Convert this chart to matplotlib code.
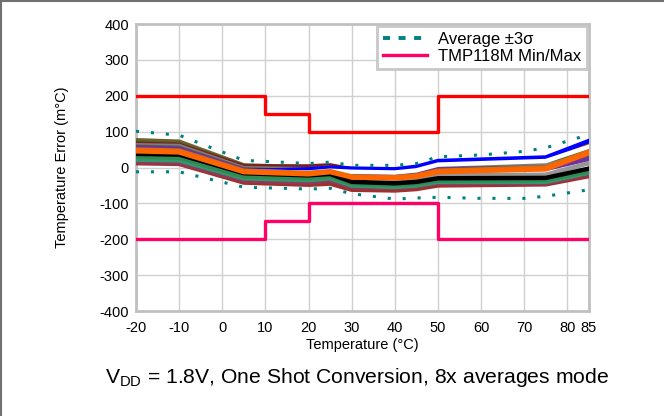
import matplotlib
matplotlib.use("Agg")
import matplotlib.pyplot as plt
from matplotlib.lines import Line2D

plt.rcParams['font.family'] = ['Liberation Sans', 'DejaVu Sans']
plt.rcParams['mathtext.fontset'] = 'custom'
plt.rcParams['mathtext.rm'] = 'Liberation Sans'
plt.rcParams['mathtext.it'] = 'Liberation Sans:italic'

# ---------------- data ----------------
temps = [-20, -10, 5, 20, 25, 30, 40, 45, 50, 75, 85]

# individual device curves (m°C), drawn in this order
curve_colors = ['#70602A', '#4F6228', '#7A1F1F', '#8B4513', '#7F7F7F', '#595959',
                '#7030A0', '#0000FF', '#FFFFFF', '#969696', '#FFC000', '#A0302A',
                '#8B3A62', '#339966', '#2E8B57', '#000000', '#E46C0A', '#FF6600']
curves = [
    [76, 72, 6, 0, 2, -10, -13, -10, 8, 15, 55],            # olive brown
    [70, 66, 2, -3, 0, -16, -18, -14, 2, 10, 42],           # olive green
    [66, 63, 3, 3, 6, -5, -7, -3, 13, 20, 60],              # maroon
    [52, 50, -5, -8, -4, -8, -10, -5, 12, 22, 66],          # brown
    [62, 60, -2, -5, 0, -15, -18, -14, 0, 6, 36],           # gray
    [58, 55, -5, -10, -5, -20, -22, -18, -4, 0, 30],        # dark gray
    [55, 52, -7, -12, -8, -22, -25, -20, -6, -4, 24],       # purple
    [48, 45, -10, -5, 0, -3, -5, 2, 18, 28, 74],            # blue
    [42, 40, -11, -14, -9, -12, -14, -8, 8, 18, 58],        # white
    [30, 28, -22, -27, -23, -36, -38, -33, -22, -20, 12],   # gray2
    [36, 34, -19, -24, -20, -42, -45, -41, -32, -31, -6],   # yellow
    [12, 10, -42, -48, -45, -62, -64, -60, -50, -47, -24],  # red brown
    [16, 13, -36, -42, -36, -55, -57, -53, -44, -44, -18],  # magenta
    [22, 20, -30, -35, -30, -50, -54, -50, -40, -40, -14],  # green2
    [30, 27, -25, -30, -25, -45, -49, -45, -36, -35, -10],  # seagreen
    [38, 36, -16, -22, -18, -40, -44, -40, -30, -29, -3],   # black
    [50, 47, -9, -15, -10, -25, -27, -22, -9, 0, 45],       # orange2
    [45, 42, -13, -19, -13, -28, -30, -26, -13, -5, 40],    # orange
]

sigma_temps = [-20, -10, 5, 20, 25, 30, 40, 45, 50, 60, 70, 75, 85]
avg_plus_3s = [101, 90, 20, 11, 15, 6, 6, 11, 30, 35, 45, 55, 92]
avg_minus_3s = [-12, -12, -55, -60, -58, -73, -88, -85, -83, -86, -86, -80, -62]

limit_temps = [-20, 10, 10, 20, 20, 50, 50, 85]
limit_max = [200, 200, 150, 150, 100, 100, 200, 200]
limit_min = [-200, -200, -150, -150, -100, -100, -200, -200]

xticks = [-20, -10, 0, 10, 20, 30, 40, 50, 60, 70, 80, 85]
yticks = [-400, -300, -200, -100, 0, 100, 200, 300, 400]

# ---------------- plot ----------------
fig = plt.figure(figsize=(6.64, 4.16), dpi=100)
ax = fig.add_axes([0.2048, 0.2524, 0.887 - 0.2048, 0.9423 - 0.2524])

for c, col in zip(curves, curve_colors):
    ax.plot(temps, c, color=col, lw=3.2, solid_joinstyle='miter', zorder=3)

dot_style = (0, (1, 3.9))
ax.plot(sigma_temps, avg_plus_3s, color='#008080', lw=2.2, linestyle=dot_style,
        dash_capstyle='butt', zorder=4)
ax.plot(sigma_temps, avg_minus_3s, color='#008080', lw=2.2, linestyle=dot_style,
        dash_capstyle='butt', zorder=4)

ax.plot(limit_temps, limit_max, color='#FF0000', lw=2.4, zorder=5)
ax.plot(limit_temps, limit_min, color='#FF0066', lw=2.4, zorder=5)

ax.set_xlim(-20, 85)
ax.set_ylim(-400, 400)
ax.set_xticks(xticks)
ax.set_yticks(yticks)
ax.set_xticklabels([str(t) for t in xticks])
ax.set_yticklabels([str(t) for t in yticks])
ax.tick_params(length=0, labelsize=10.5, colors='#000000')
ax.tick_params(axis='x', pad=7)
ax.tick_params(axis='y', pad=5)
ax.grid(True, color='#D0D0D0', lw=1.0, zorder=0)
ax.set_axisbelow(True)
for s in ax.spines.values():
    s.set_color('#C0C0C0')
    s.set_linewidth(2.0)

ax.set_xlabel('Temperature (\u00b0C)', fontsize=10.5, labelpad=2)
ax.set_ylabel('Temperature Error (m\u00b0C)', fontsize=10.5, labelpad=22)

handles = [Line2D([], [], color='#008080', lw=2.8, linestyle=(0, (1.8, 2.2))),
           Line2D([], [], color='#FF0066', lw=2.4)]
leg = ax.legend(handles, ['Average \u00b13\u03c3', 'TMP118M Min/Max'],
                loc='upper right', bbox_to_anchor=(1.0, 1.0), fontsize=12,
                frameon=True, fancybox=False, framealpha=1, edgecolor='#C8C8C8',
                handlelength=2.6, handletextpad=0.7, borderpad=0.35,
                labelspacing=0.12, borderaxespad=0.1)
leg.get_frame().set_linewidth(2.0)

fig.text(0.538, 0.092, 'V$_{\\mathrm{DD}}$ = 1.8V, One Shot Conversion, 8x averages mode',
         ha='center', va='center', fontsize=15.2)

# figure frame (top and left)
fig.add_artist(Line2D([0.0015, 0.0015], [0, 1], transform=fig.transFigure, color='#707070', lw=1.5))
fig.add_artist(Line2D([0, 1], [0.9975, 0.9975], transform=fig.transFigure, color='#707070', lw=1.5))

fig.savefig('out.png', dpi=100)
